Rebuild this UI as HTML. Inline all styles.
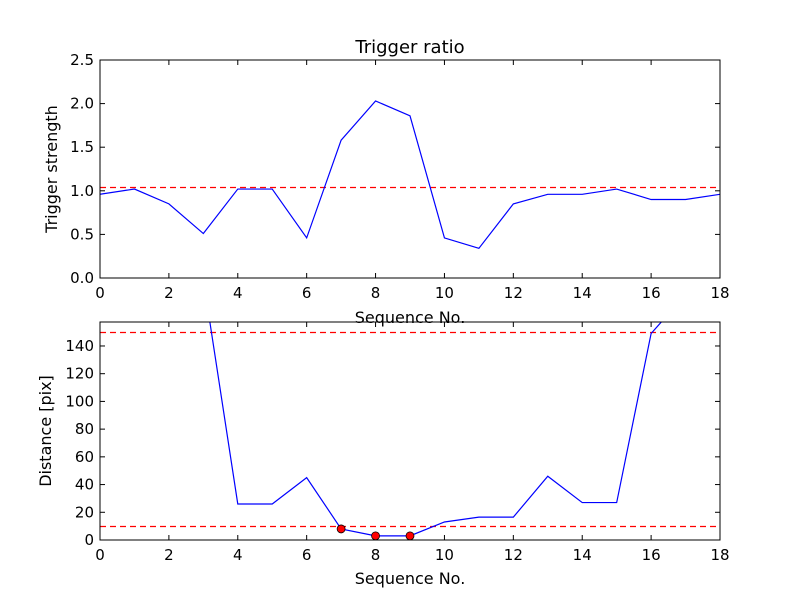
<!DOCTYPE html>
<html><head><meta charset="utf-8"><style>
body{margin:0;background:#fff;}
svg{display:block;font-family:"DejaVu Sans","Liberation Sans",sans-serif;}
</style></head><body>
<svg id="chart" width="800" height="600"></svg>
<script>
const seq = [0,1,2,3,4,5,6,7,8,9,10,11,12,13,14,15,16,17,18];
const strength = [0.96,1.02,0.85,0.51,1.02,1.02,0.46,1.58,2.03,1.86,0.46,0.34,0.85,0.96,0.96,1.02,0.90,0.90,0.96];
const strengthThreshold = 1.04;
const distance = [200,200,200,188,26,26,45,8,3,3,13,16.5,16.5,46,27,27,149,177,180];
const markedIdx = [7,8,9];
const distThresholds = [150,10];
const xTicks = [0,2,4,6,8,10,12,14,16,18];
const yTicksTop = [0,0.5,1.0,1.5,2.0,2.5];
const yTicksBot = [0,20,40,60,80,100,120,140];

const NS="http://www.w3.org/2000/svg";
const svg=document.getElementById('chart');
function mk(tag,attrs,parent){const e=document.createElementNS(NS,tag);for(const k in attrs)e.setAttribute(k,attrs[k]);(parent||svg).appendChild(e);return e;}
const L=100,R=720;
function xs(v){return L+(v-0)/(18-0)*(R-L);}
function crisp(y){return Math.round(y)+0.5;}
function panel(top,bot,ymin,ymax,yticks,fmt,name){
  const ys=v=>bot-(v-ymin)/(ymax-ymin)*(bot-top);
  const g=mk('g',{});
  
  
  const cp=mk('clipPath',{id:'cp'+name},g);
  mk('rect',{x:L,y:top,width:R-L,height:bot-top},cp);
  xTicks.forEach(t=>{
    mk('line',{x1:xs(t),x2:xs(t),y1:bot,y2:bot-5,stroke:'#000'},g);
    mk('line',{x1:xs(t),x2:xs(t),y1:top,y2:top+5,stroke:'#000'},g);
    const tx=mk('text',{x:xs(t),y:bot+20,'text-anchor':'middle','font-size':15},g);
    
    
    tx.textContent=t;
  });
  yticks.forEach(t=>{
    mk('line',{x1:L,x2:L+5,y1:ys(t),y2:ys(t),stroke:'#000'},g);
    mk('line',{x1:R,x2:R-5,y1:ys(t),y2:ys(t),stroke:'#000'},g);
    const tx=mk('text',{x:L-6,y:ys(t)+5,'text-anchor':'end','font-size':15},g);
    
    
    tx.textContent=fmt(t);
  });
  return {g,ys,clip:'url(#cp'+name+')'};
}
const p1=panel(60,278,0,2.5,yTicksTop,v=>v.toFixed(1),'top-panel');
const th1=mk('line',{x1:L,x2:R,y1:crisp(p1.ys(strengthThreshold)),y2:crisp(p1.ys(strengthThreshold)),stroke:'#f00','stroke-dasharray':'6,4','stroke-width':1.2},p1.g);


const l1=mk('polyline',{points:seq.map((s,i)=>xs(s)+','+p1.ys(strength[i])).join(' '),fill:'none',stroke:'#00f','stroke-width':1.2,'clip-path':p1.clip},p1.g);


mk('rect',{x:L,y:60,width:R-L,height:218,fill:'none',stroke:'#000'},p1.g);
const p2=panel(322,540,0,157.3,yTicksBot,v=>v,'bottom-panel');
distThresholds.forEach(t=>{
  const l=mk('line',{x1:L,x2:R,y1:crisp(p2.ys(t)),y2:crisp(p2.ys(t)),stroke:'#f00','stroke-dasharray':'6,4','stroke-width':1.2},p2.g);
  
  
});
const l2=mk('polyline',{points:seq.map((s,i)=>xs(s)+','+p2.ys(distance[i])).join(' '),fill:'none',stroke:'#00f','stroke-width':1.2,'clip-path':p2.clip},p2.g);


markedIdx.forEach(i=>{
  const c=mk('circle',{cx:xs(seq[i]),cy:p2.ys(distance[i]),r:4,fill:'#f00',stroke:'#000','stroke-width':0.8},p2.g);
  
  
});
mk('rect',{x:L,y:322,width:R-L,height:218,fill:'none',stroke:'#000'},p2.g);
function lab(x,y,txt,size,name,rot){
  const t=mk('text',{x:x,y:y,'text-anchor':'middle','font-size':size});
  if(rot)t.setAttribute('transform','rotate(-90 '+x+' '+y+')');
  
  
  t.textContent=txt;
}
lab(410,53,'Trigger ratio',18,'chart-title');
lab(410,323,'Sequence No.',16,'top-x-axis-title');
lab(410,584,'Sequence No.',16,'bottom-x-axis-title');
lab(57,169,'Trigger strength',16,'top-y-axis-title',true);
lab(51,431,'Distance [pix]',16,'bottom-y-axis-title',true);
</script>
</body></html>
